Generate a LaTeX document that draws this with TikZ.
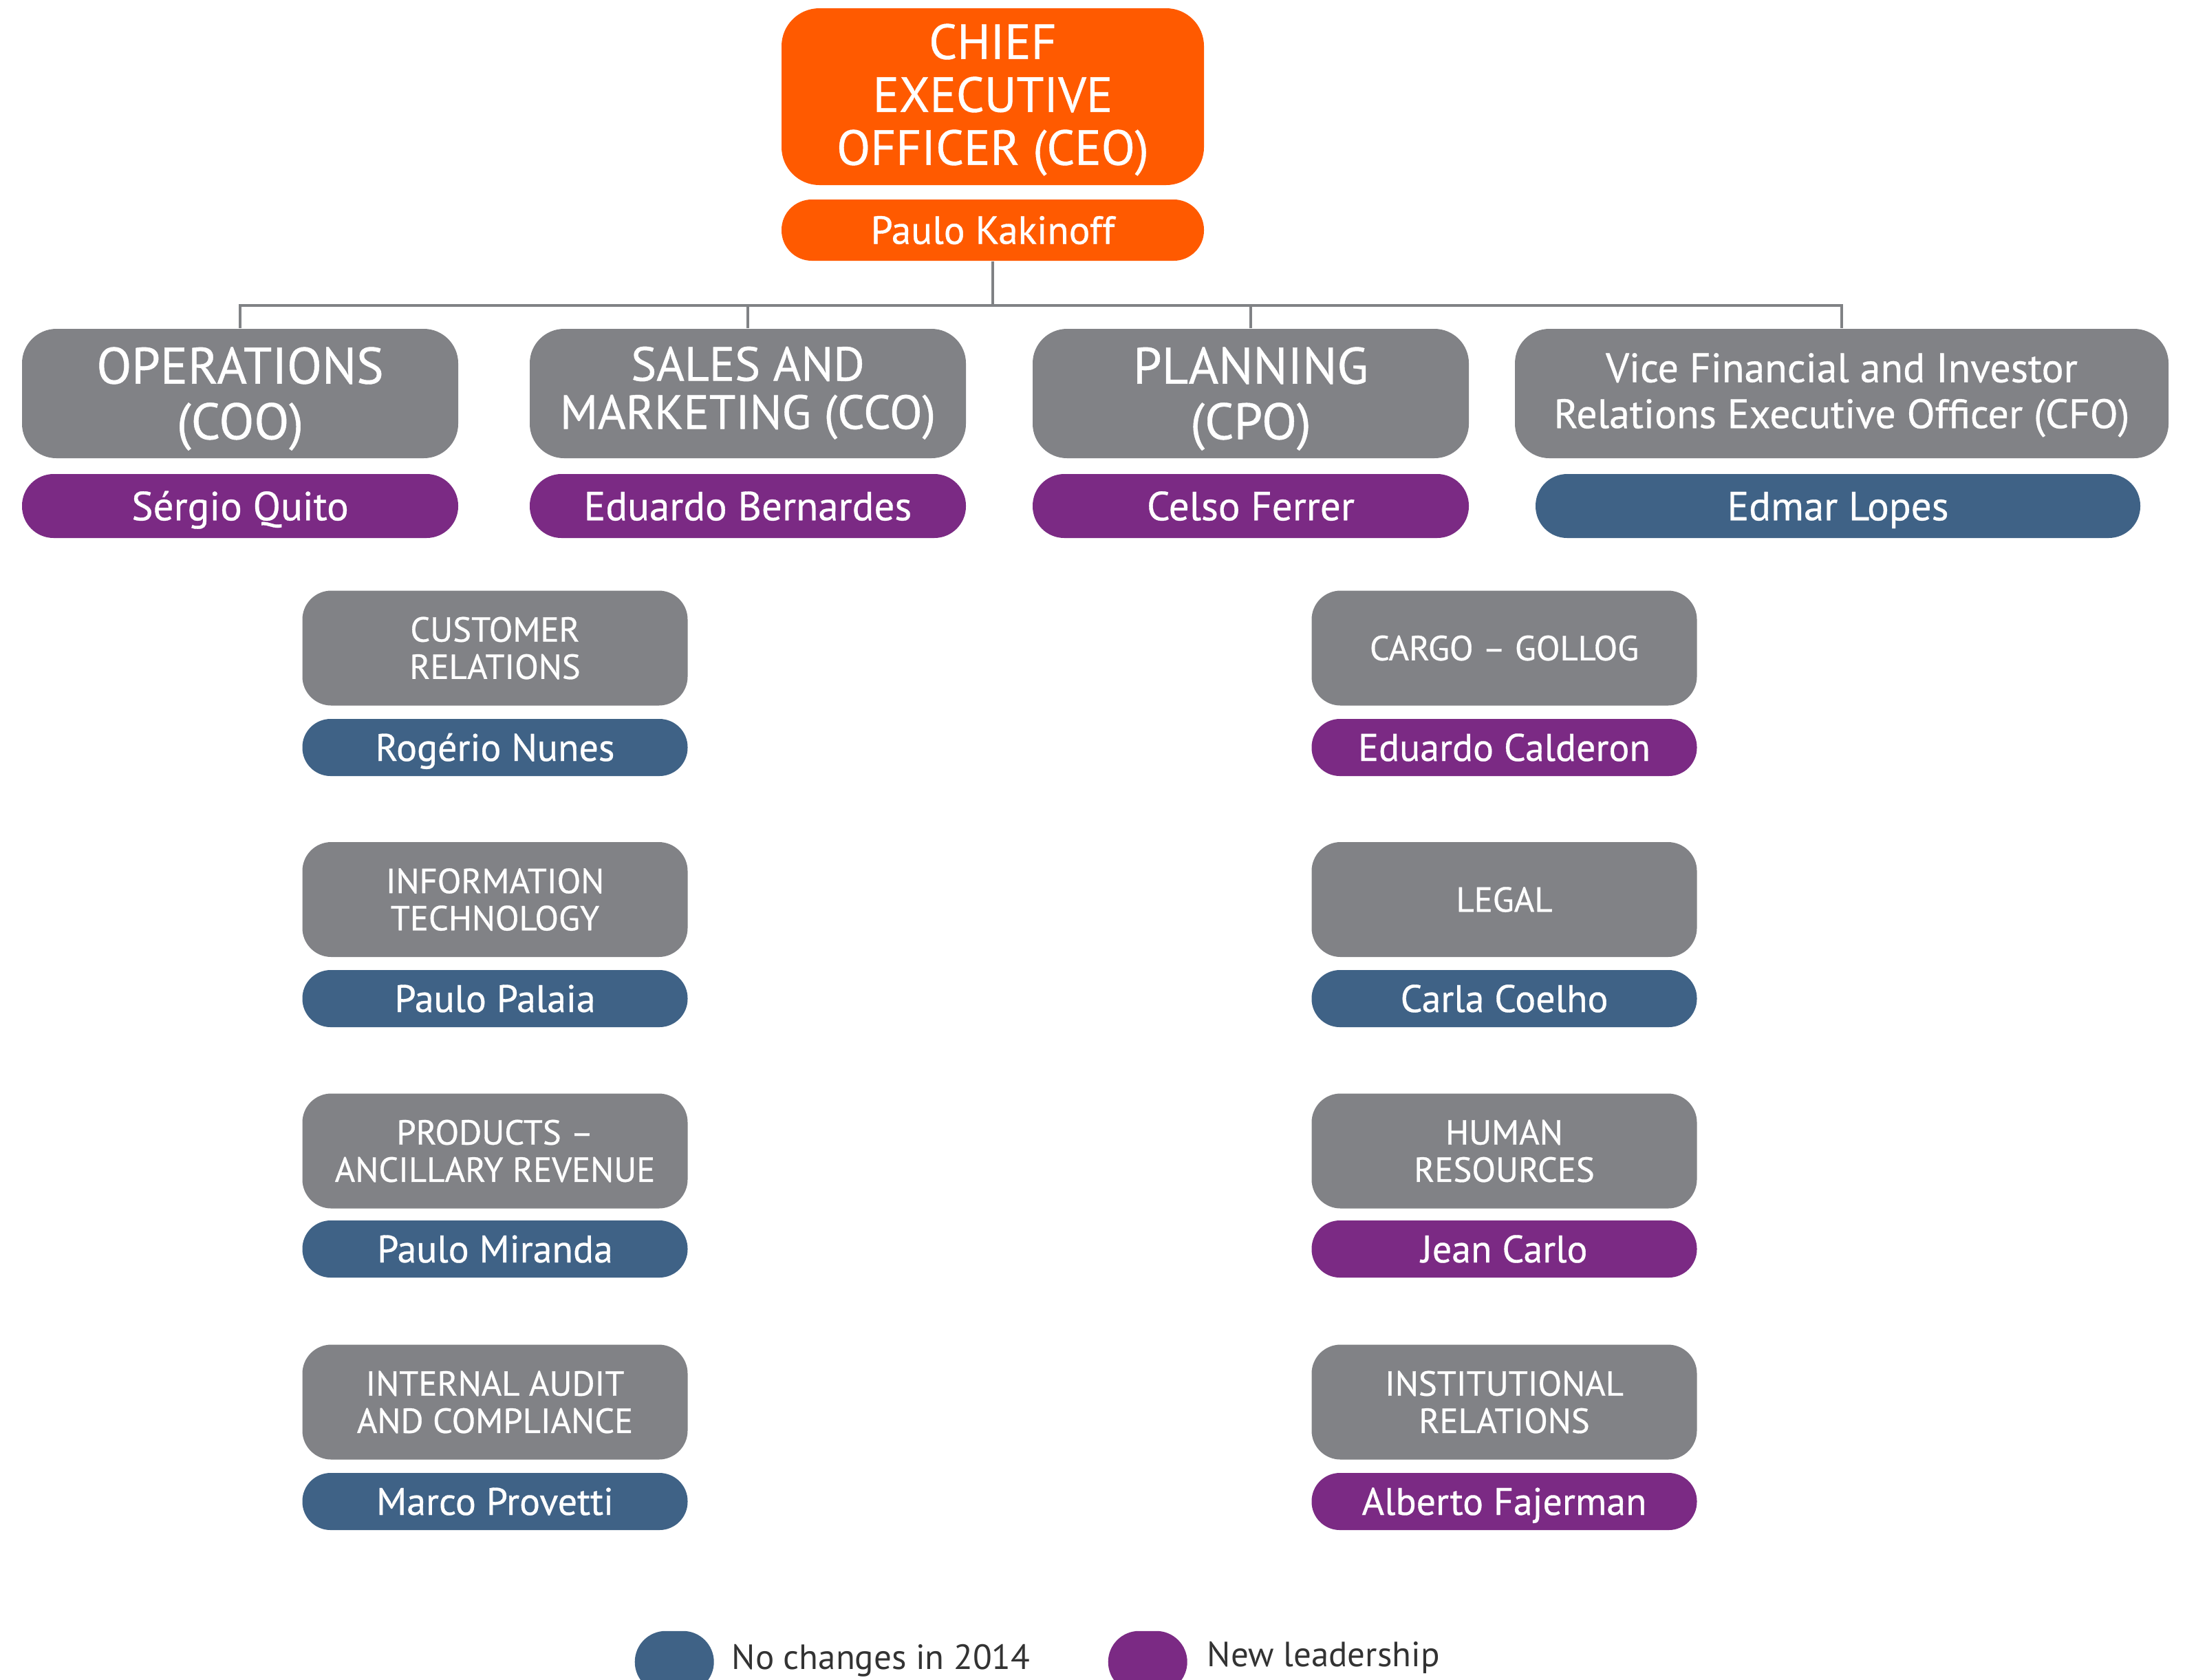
\documentclass[tikz,border=0pt]{standalone}
\usepackage{fontspec}
\setmainfont{PT Sans}
\newfontfamily\medfont{PT Sans}[FakeBold=0.6]
\definecolor{golorange}{HTML}{FF5A00}
\definecolor{golgray}{HTML}{818286}
\definecolor{golpurple}{HTML}{7B2A84}
\definecolor{golblue}{HTML}{3F6286}
\definecolor{linegray}{HTML}{808285}
\definecolor{legendtext}{HTML}{333333}
\tikzset{
  base/.style={inner sep=0pt, text=white, align=center, text depth=0pt},
  ceobox/.style={base, fill=golorange, rounded corners=0.55cm, minimum width=6.14cm, minimum height=2.57cm, font=\medfont\fontsize{20.4}{21.9}\selectfont, text height=56.4pt},
  ceoname/.style={base, fill=golorange, rounded corners=0.44cm, minimum width=6.14cm, minimum height=0.89cm, font=\medfont\fontsize{16.3}{18}\selectfont, text height=11.4pt},
  lvtwo/.style={base, fill=golgray, rounded corners=0.5cm, minimum width=6.34cm, minimum height=1.88cm, font=\medfont\fontsize{21.2}{23}\selectfont, text height=37.8pt},
  lvtwoname/.style={base, rounded corners=0.46cm, minimum width=6.34cm, minimum height=0.93cm, font=\medfont\fontsize{16.8}{18}\selectfont, text height=11.8pt},
  lvthree/.style={base, fill=golgray, rounded corners=0.42cm, minimum width=5.6cm, minimum height=1.67cm, font=\medfont\fontsize{14.4}{15.4}\selectfont, text height=25.5pt},
  lvthreeone/.style={lvthree, text height=10.1pt},
  lvthreename/.style={base, rounded corners=0.41cm, minimum width=5.6cm, minimum height=0.83cm, font=\medfont\fontsize{15.9}{18}\selectfont, text height=11.1pt},
  newlead/.style={fill=golpurple},
  nochange/.style={fill=golblue},
  conn/.style={draw=linegray, line width=1.2pt},
  legendtxt/.style={inner sep=0pt, anchor=west, text=legendtext, font=\fontsize{14.5}{16}\selectfont},
  legenddot/.style={rounded corners=0.45cm, minimum width=1.15cm, minimum height=0.9cm, inner sep=0pt}
}
\begin{document}
\begin{tikzpicture}
\useasboundingbox (0,0) rectangle (31.76,-24.41);
\clip (0,0) rectangle (31.76,-24.41);
% CEO
\node[ceobox] (ceo) at (14.43,-1.405) {CHIEF\\EXECUTIVE\\OFFICER (CEO)};
\node[ceoname] (ceon) at (14.43,-3.345) {Paulo Kakinoff};
% level 2
\node[lvtwo] (ops) at (3.49,-5.72) {OPERATIONS\\(COO)};
\node[lvtwo, font=\medfont\fontsize{19.8}{19.9}\selectfont, text height=29.2pt] (sales) at (10.87,-5.72) {SALES AND\\MARKETING (CCO)};
\node[lvtwo] (plan) at (18.18,-5.72) {PLANNING\\(CPO)};
\node[lvtwo, minimum width=9.5cm, font=\medfont\fontsize{17}{19}\selectfont, text height=28.6pt] (cfo) at (26.77,-5.72) {Vice Financial and Investor\\Relations Executive Officer (CFO)};
\node[lvtwoname, newlead] (opsn) at (3.49,-7.355) {Sérgio Quito};
\node[lvtwoname, newlead] (salesn) at (10.87,-7.355) {Eduardo Bernardes};
\node[lvtwoname, newlead] (plann) at (18.18,-7.355) {Celso Ferrer};
\node[lvtwoname, nochange, minimum width=8.79cm] (cfon) at (26.715,-7.355) {Edmar Lopes};
% connectors
\coordinate (j) at (ceon.south |- 0,-4.44);
\draw[conn] (ceon.south) -- (j);
\draw[conn] (ops.north) |- (j);
\draw[conn] (j) -| (cfo.north);
\draw[conn] (sales.north) -- (sales.north |- j);
\draw[conn] (plan.north) -- (plan.north |- j);
% level 3 left
\node[lvthree] (cust) at (7.195,-9.42) {CUSTOMER\\RELATIONS};
\node[lvthreename, nochange] (custn) at (7.195,-10.865) {Rogério Nunes};
\node[lvthree] (it) at (7.195,-13.075) {INFORMATION\\TECHNOLOGY};
\node[lvthreename, nochange] (itn) at (7.195,-14.515) {Paulo Palaia};
\node[lvthree] (prod) at (7.195,-16.73) {PRODUCTS –\\ANCILLARY REVENUE};
\node[lvthreename, nochange] (prodn) at (7.195,-18.155) {Paulo Miranda};
\node[lvthree] (audit) at (7.195,-20.38) {INTERNAL AUDIT\\AND COMPLIANCE};
\node[lvthreename, nochange] (auditn) at (7.195,-21.825) {Marco Provetti};
% level 3 right
\node[lvthreeone] (cargo) at (21.865,-9.42) {CARGO – GOLLOG};
\node[lvthreename, newlead] (cargon) at (21.865,-10.865) {Eduardo Calderon};
\node[lvthreeone] (legal) at (21.865,-13.075) {LEGAL};
\node[lvthreename, nochange] (legaln) at (21.865,-14.515) {Carla Coelho};
\node[lvthree] (hr) at (21.865,-16.73) {HUMAN\\RESOURCES};
\node[lvthreename, newlead] (hrn) at (21.865,-18.155) {Jean Carlo};
\node[lvthree] (inst) at (21.865,-20.38) {INSTITUTIONAL\\RELATIONS};
\node[lvthreename, newlead] (instn) at (21.865,-21.825) {Alberto Fajerman};
% legend
\node[legenddot, nochange, anchor=north west] (lgblue) at (9.22,-23.70) {};
\node[legendtxt] (lgbluet) at (10.63,-24.14) {No changes in 2014};
\node[legenddot, newlead, anchor=north west] (lgpurple) at (16.10,-23.70) {};
\node[legendtxt] (lgpurplet) at (17.54,-24.09) {New leadership};
\end{tikzpicture}
\end{document}
